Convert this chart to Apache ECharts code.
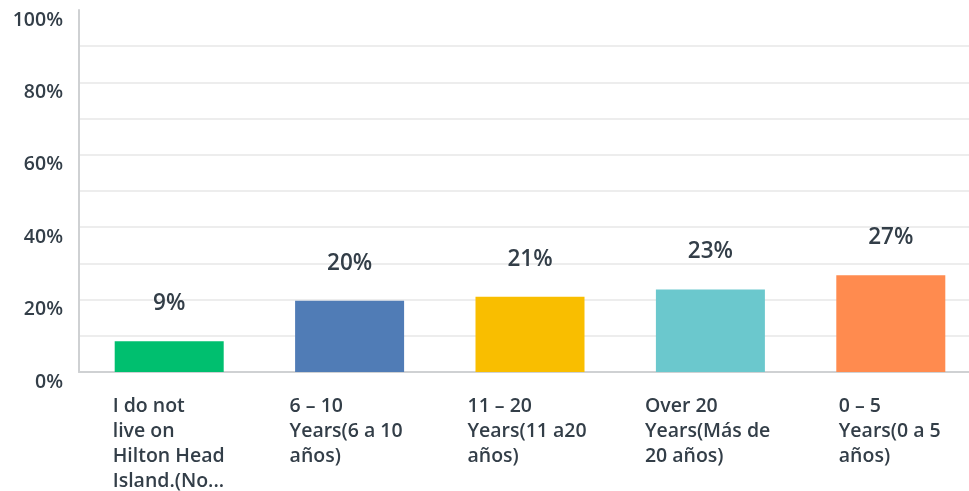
<!DOCTYPE html>
<html>
<head>
<meta charset="utf-8">
<script src="https://cdn.jsdelivr.net/npm/echarts@6/dist/echarts.min.js"></script>
<style>
html,body{margin:0;padding:0;background:#fff;overflow:hidden;width:969px;height:491px;}
#c{width:985px;height:491px;}
</style>
</head>
<body>
<div id="c"></div>
<script>
const categories = [
  "I do not\nlive on\nHilton Head\nIsland.(No...",
  "6 – 10\nYears(6 a 10\naños)",
  "11 – 20\nYears(11 a20\naños)",
  "Over 20\nYears(Más de\n20 años)",
  "0 – 5\nYears(0 a 5\naños)"
];
const values = [8.5, 19.7, 20.8, 22.8, 26.7];
const valueLabels = ["9%", "20%", "21%", "23%", "27%"];
const barColors = ["#00bf6f", "#507cb6", "#f9be00", "#6bc8cd", "#ff8b4f"];
const yTicks = [0, 20, 40, 60, 80, 100];

const textColor = "#333e48";
const font = "'Open Sans', sans-serif";

// label block widths (text is left-aligned inside a centred block)
const labelBlockWidths = [113, 120, 125, 131, 104];
const richStyles = {};
labelBlockWidths.forEach((w, i) => {
  richStyles['a' + i] = { width: w, align: 'left', fontSize: 19.5, fontWeight: 600, color: textColor, fontFamily: font, lineHeight: 25 };
});

const chart = echarts.init(document.getElementById('c'));
chart.setOption({
  animation: false,
  grid: { left: 79, right: 4, top: 10, bottom: 119, containLabel: false, outerBoundsMode: 'none' },
  xAxis: {
    type: 'category',
    data: categories,
    axisLine: { show: true, lineStyle: { color: '#cfd1d3', width: 2 } },
    axisTick: { show: false },
    axisLabel: {
      interval: 0,
      margin: 22,
      formatter: function (v, idx) {
        return v.split('\n').map(s => '{a' + idx + '|' + s + '}').join('\n');
      },
      rich: richStyles
    }
  },
  yAxis: {
    type: 'value',
    min: 0,
    max: 100,
    interval: 10,
    axisLine: { show: true, lineStyle: { color: '#cfd1d3', width: 2 } },
    axisTick: { show: false },
    splitLine: { show: true, showMaxLine: false, lineStyle: { color: '#ededed', width: 2 } },
    axisLabel: {
      margin: 16,
      verticalAlign: 'top',
      fontSize: 19.5,
      fontWeight: 600,
      color: textColor,
      fontFamily: font,
      lineHeight: 20,
      formatter: function (v) { return yTicks.indexOf(v) >= 0 ? v + '%' : ''; }
    }
  },
  series: [{
    type: 'bar',
    data: values.map((v, i) => ({ value: v, itemStyle: { color: barColors[i] } })),
    barWidth: 109,
    label: {
      show: true,
      position: 'top',
      distance: 26,
      fontSize: 22.5,
      fontWeight: 600,
      color: textColor,
      fontFamily: font,
      formatter: function (p) { return valueLabels[p.dataIndex]; }
    }
  }]
});
</script>
</body>
</html>
